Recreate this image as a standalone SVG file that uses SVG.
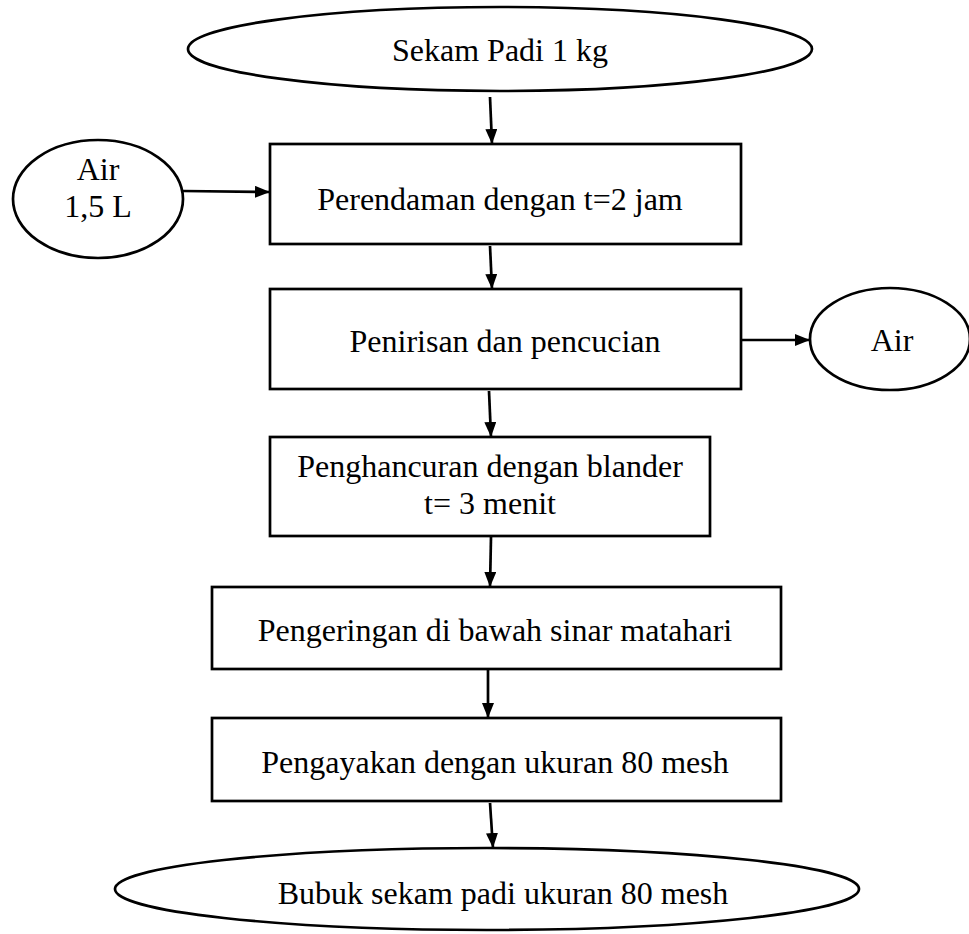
<svg xmlns="http://www.w3.org/2000/svg" width="969" height="934" viewBox="0 0 969 934">
<style>
.s{fill:#fff;stroke:#000;stroke-width:2.7}
.t{font-family:"Liberation Serif","Times New Roman",serif;font-size:32px;fill:#000;text-anchor:middle}
.c{stroke:#000;stroke-width:2.7;fill:none}
</style>
<defs>
<marker id="a" viewBox="0 0 15 12" refX="15" refY="6" markerWidth="15" markerHeight="12" orient="auto" markerUnits="userSpaceOnUse">
<path d="M0,0L15,6L0,12z" fill="#000"/>
</marker>
</defs>
<rect width="969" height="934" fill="#fff"/>
<g id="n1"><ellipse class="s" cx="500" cy="49" rx="312" ry="42"/><text class="t" x="500" y="61">Sekam Padi 1 kg</text></g>
<g id="n2"><rect class="s" x="270" y="144" width="471" height="100"/><text class="t" x="500" y="210">Perendaman dengan t=2 jam</text></g>
<g id="n3"><ellipse class="s" cx="98" cy="199" rx="85" ry="59"/><text class="t" x="98" y="180">Air</text><text class="t" x="98" y="217">1,5 L</text></g>
<g id="n4"><rect class="s" x="270" y="289" width="471" height="100"/><text class="t" x="505" y="352">Penirisan dan pencucian</text></g>
<g id="n5"><ellipse class="s" cx="890" cy="339" rx="80" ry="51"/><text class="t" x="892" y="351">Air</text></g>
<g id="n6"><rect class="s" x="270" y="437" width="440" height="99"/><text class="t" x="490" y="477">Penghancuran dengan blander</text><text class="t" x="490" y="514">t= 3 menit</text></g>
<g id="n7"><rect class="s" x="212" y="587" width="569" height="82"/><text class="t" x="495" y="641">Pengeringan di bawah sinar matahari</text></g>
<g id="n8"><rect class="s" x="212" y="718" width="569" height="83"/><text class="t" x="495" y="773">Pengayakan dengan ukuran 80 mesh</text></g>
<g id="n9"><ellipse class="s" cx="487" cy="889" rx="372" ry="41"/><text class="t" x="503" y="904">Bubuk sekam padi ukuran 80 mesh</text></g>
<g id="connectors">
<line class="c" x1="490" y1="97" x2="492" y2="144" marker-end="url(#a)"/>
<line class="c" x1="183" y1="191" x2="270" y2="192" marker-end="url(#a)"/>
<line class="c" x1="490" y1="246" x2="492" y2="289" marker-end="url(#a)"/>
<line class="c" x1="741" y1="340" x2="810" y2="340" marker-end="url(#a)"/>
<line class="c" x1="489" y1="391" x2="491" y2="437" marker-end="url(#a)"/>
<line class="c" x1="491" y1="537" x2="490" y2="587" marker-end="url(#a)"/>
<line class="c" x1="488" y1="670" x2="488" y2="718" marker-end="url(#a)"/>
<line class="c" x1="490" y1="803" x2="493" y2="848" marker-end="url(#a)"/>
</g>
</svg>
